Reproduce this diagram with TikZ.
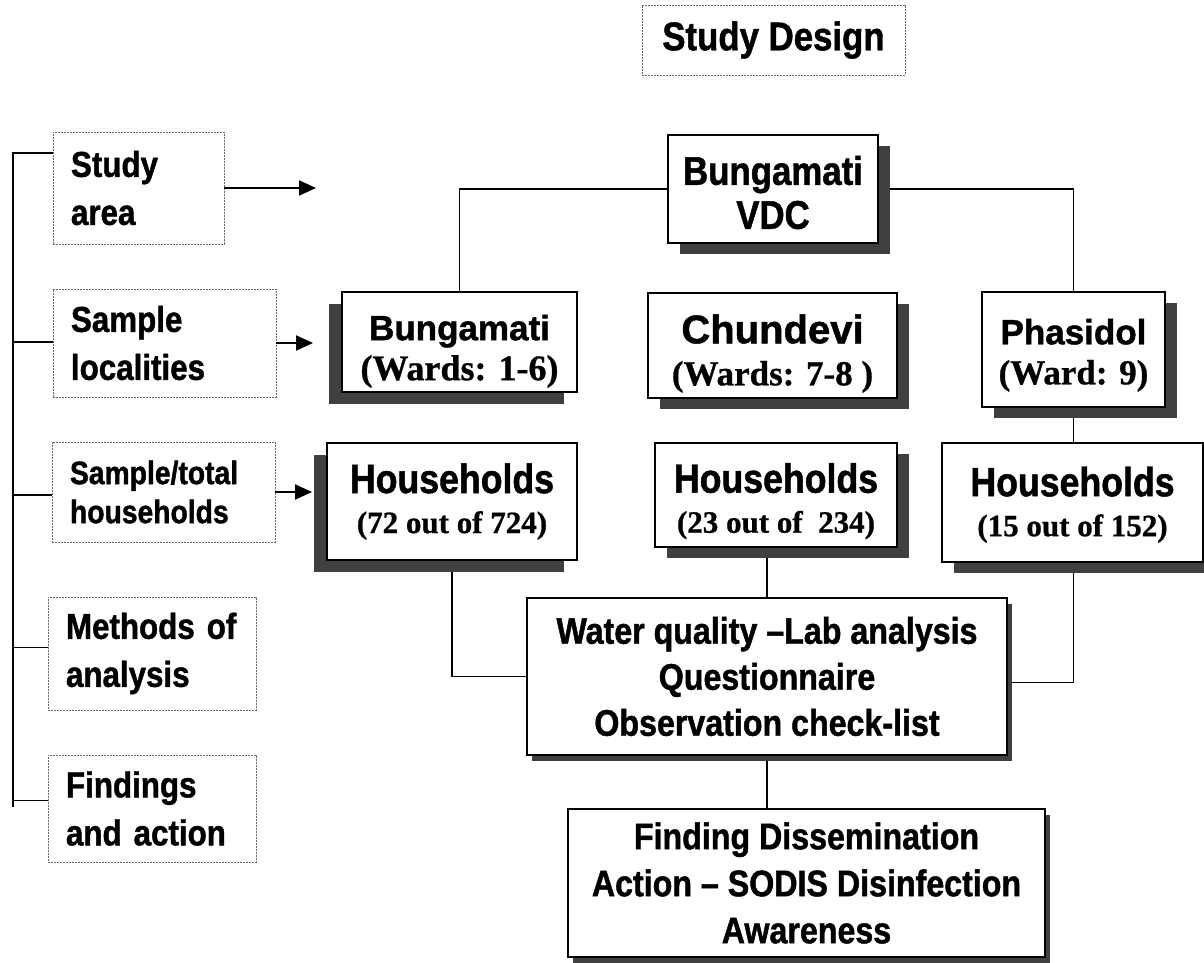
\documentclass[tikz,border=0pt]{standalone}
\usepackage{fontspec}
\setmainfont{Liberation Sans}[BoldFeatures={FakeBold=1.2}]
\newfontfamily\narrowsf{Liberation Sans}[FakeStretch=0.87,BoldFeatures={FakeBold=1.2}]
\newfontfamily\serifbf{Liberation Serif}[BoldFeatures={FakeBold=0.8}]
\usetikzlibrary{arrows.meta,positioning,shadows,backgrounds}
\newcommand{\subline}[2]{{\serifbf\bfseries\fontsize{#1}{#1}\selectfont #2}}
\newcommand{\topstrut}[1]{\rule{0pt}{#1}}
\tikzset{
  sidebox/.style={draw=black!60,line width=0.8pt,dash pattern=on 2pt off 1pt,text width=#1,inner xsep=18pt,align=left,font=\narrowsf\bfseries\fontsize{36}{48}\selectfont},
  titlebox/.style={draw=black!60,line width=0.8pt,dash pattern=on 2pt off 1pt,inner xsep=18pt,font=\narrowsf\bfseries\fontsize{40}{48}\selectfont},
  mainbox/.style={draw=black,line width=2pt,fill=white,align=center,inner sep=0pt},
  placefont/.style={font=\bfseries\fontsize{35}{40}\selectfont},
  hhfont/.style={font=\narrowsf\bfseries\fontsize{41}{40}\selectfont},
  shadeR/.style={general shadow={fill=black!75,shadow xshift=12pt,shadow yshift=-11pt}},
  shadeL/.style={general shadow={fill=black!75,shadow xshift=-13pt,shadow yshift=-12pt}},
  shadeS/.style={general shadow={fill=black!75,shadow xshift=5pt,shadow yshift=-6pt}},
  link/.style={draw=black,line width=1.3pt},
  pointer/.style={-{Triangle[length=17pt,width=15pt]},draw=black,line width=2pt}
}

\begin{document}
\begin{tikzpicture}[x=1pt,y=-1pt]
  \useasboundingbox (0,0) rectangle (1204,963);
  \node[titlebox,minimum width=263pt,minimum height=70pt] (title) at (773.5,40) {Study Design};

  % left column
  \node[sidebox=135pt,minimum height=112pt] (sarea) at (138.5,188) {Study\\area};
  \node[sidebox=187pt,minimum height=108pt] (sloc) at (164.5,343) {Sample\\localities};
  \node[sidebox=187pt,minimum height=100pt,font=\narrowsf\bfseries\fontsize{32.5}{39}\selectfont] (shh) at (163.5,492) {Sample/total\\households};
  \node[sidebox=172pt,minimum height=113pt] (meth) at (152,653.5) {Methods of\\analysis};
  \node[sidebox=172pt,minimum height=107pt] (find) at (152,808.5) {Findings\\and action};
  \coordinate (spinebot) at (13,807);
  \coordinate (sareatip) at (316,188);

  % study area and localities
  \node[mainbox,shadeR,minimum width=210pt,minimum height=108pt,font=\narrowsf\bfseries\fontsize{40}{44}\selectfont] (vdc) at (773,189) {\topstrut{36pt}Bungamati\\VDC};
  \node[mainbox,shadeL,placefont,minimum width=235pt,minimum height=100pt] (bung) at (459.5,342) {\topstrut{44pt}Bungamati\\\subline{36}{(Wards: 1-6)}};
  \node[mainbox,shadeR,minimum width=249pt,minimum height=105pt,font=\bfseries\fontsize{40}{42}\selectfont] (chun) at (772.5,345.5) {\topstrut{45pt}Chundevi\\\subline{35}{(Wards: 7-8 )}};
  \node[mainbox,shadeR,placefont,minimum width=183pt,minimum height=115pt] (phas) at (1073.5,349.5) {\topstrut{37pt}Phasidol\\\subline{35}{(Ward: 9)}};

  % households
  \node[mainbox,shadeL,hhfont,minimum width=250pt,minimum height=117pt] (hhl) at (452,501.5) {Households\\\subline{31}{(72 out of 724)}};
  \node[mainbox,shadeR,hhfont,minimum width=242pt,minimum height=104pt] (hhm) at (776,495) {\topstrut{42pt}Households\\\subline{31}{(23 out of~ 234)}};
  \node[mainbox,shadeR,hhfont,minimum width=261pt,minimum height=119pt] (hhr) at (1072.5,502.5) {\topstrut{34pt}Households\\\subline{31}{(15 out of 152)}};

  % methods and findings
  \node[mainbox,shadeS,minimum width=480pt,minimum height=157pt,font=\narrowsf\bfseries\fontsize{37}{46}\selectfont] (wq) at (767,676.5) {Water quality –Lab analysis\\Questionnaire\\Observation check-list};
  \node[mainbox,shadeS,minimum width=477pt,minimum height=148pt,font=\narrowsf\bfseries\fontsize{37}{47}\selectfont] (fdis) at (806.5,883) {Finding Dissemination\\Action – SODIS Disinfection\\Awareness};

  \begin{pgfonlayer}{background}
    \foreach \n/\dy in {sarea/35,sloc/1,shh/-3,meth/6,find/8}
      \draw[link] (spinebot) |- ([yshift=\dy pt]\n.west);
    \draw[link] (vdc.west) -| (bung.north);
    \draw[link] (vdc.east) -| (phas.north);
    \draw[link] (phas.south) -- (hhr.north -| phas.south);
    \draw[link] (hhm.south -| wq.north) -- (wq.north);
    \draw[link] (hhl.south) |- (wq.west);
    \draw[link] (hhr.south -| phas.south) |- ([yshift=-6pt]wq.east);
    \draw[link] (wq.south) -- (wq.south |- fdis.north);
  \end{pgfonlayer}

  \draw[pointer] (sarea.east) -- (sareatip);
  \draw[pointer,shorten >=28pt] (sloc.east) -- (sloc.east -| bung.west);
  \draw[pointer,shorten >=14pt] (shh.east) -- (shh.east -| hhl.west);
\end{tikzpicture}
\end{document}
